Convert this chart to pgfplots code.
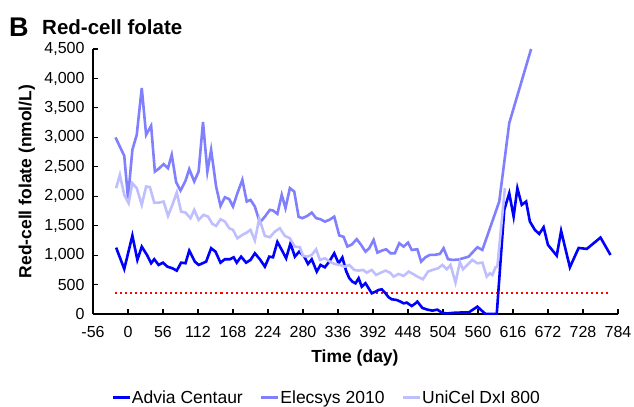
\documentclass[border=0pt]{standalone}
\usepackage{fontspec}
\setmainfont{Liberation Sans}
\usepackage{pgfplots}
\pgfplotsset{compat=1.18}
\definecolor{advia}{RGB}{0,0,255}
\definecolor{elecsys}{RGB}{128,128,255}
\definecolor{unicel}{RGB}{191,191,255}
\definecolor{cutoff}{RGB}{255,0,0}

\begin{document}
\begin{tikzpicture}
\useasboundingbox (-93bp,-93bp) rectangle (541bp,314bp);
\begin{axis}[
    scale only axis,
    width=525bp, height=265bp,
    xmin=-56, xmax=784,
    ymin=0, ymax=4500,
    axis lines*=left,
    xtick={-56,0,56,...,784},
    ytick={0,500,...,4500},
    tick align=inside,
    major tick length=5bp,
    axis line style={line width=1.2bp},
    tick style={line width=1.2bp, black},
    tick label style={font=\fontsize{16bp}{18bp}\selectfont},
    xticklabel style={yshift=-9bp},
    yticklabel style={xshift=-5bp},
    /pgf/number format/assume math mode=true,
    /pgf/number format/1000 sep={,},
    xlabel={\textbf{Time (day)}},
    ylabel={\textbf{Red-cell folate (nmol/L)}},
    label style={font=\fontsize{17.5bp}{20bp}\selectfont},
    xlabel style={at={(axis description cs:0.499,-0.165)}, anchor=center},
    ylabel style={at={(axis description cs:-0.126,0.5)}, anchor=center},
    legend columns=3,
    legend style={at={(axis description cs:0.444,-0.316)}, anchor=center,
        draw=none, font=\fontsize{17.5bp}{20bp}\selectfont,
        nodes={inner xsep=1bp},
        /tikz/every even column/.append style={column sep=16bp}},
    legend image code/.code={\draw[#1] (0bp,0bp) -- (17bp,0bp);},
]
% threshold
\addplot[cutoff, line width=2bp, dash pattern=on 2bp off 3bp, forget plot]
    coordinates {(-20,357) (772,357)};
% Advia Centaur
\addplot[advia, line width=2.6bp] coordinates {
(-19,1127) (-6,765) (7,1331) (15,918) (22,1144) (31,991) (37,862) (42,930)
(49,833) (56,872) (63,804) (71,777) (78,736) (85,872) (92,862) (98,1076)
(107,889) (113,833) (119,860) (125,889) (133,1117) (140,1059) (148,872)
(155,930) (163,929) (169,963) (174,872) (181,974) (189,872) (196,918)
(203,1031) (211,929) (219,804) (226,974) (232,963) (239,1224) (246,1088)
(253,946) (260,1201) (267,974) (274,1060) (282,974) (288,850) (294,929)
(302,720) (308,833) (315,793) (322,890) (330,1031) (337,860) (343,960)
(349,730) (354,610) (359,550) (364,520) (369,607) (374,464) (380,522)
(385,437) (390,352) (396,380) (401,408) (406,419) (412,352) (417,284)
(422,250) (430,238) (436,210) (441,181) (446,193) (454,136) (460,181)
(463,210) (471,102) (479,74) (487,57) (495,74) (503,17) (511,10) (521,20)
(532,25) (545,25) (559,125) (572,0) (586,0) (590,0) (602,1768) (610,2051)
(617,1655) (623,2136) (630,1853) (637,1910) (643,1570) (651,1428)
(658,1360) (665,1473) (672,1173) (686,991) (693,1411) (707,793)
(721,1122) (734,1105) (756,1298) (772,1003)
};
% Elecsys 2010
\addplot[elecsys, line width=2.6bp] coordinates {
(-20,2998) (-6,2686) (0,1967) (7,2788) (14,3043) (22,3837) (29,3043)
(37,3196) (43,2419) (49,2465) (57,2545) (64,2476) (70,2703) (77,2239)
(84,2096) (92,2261) (98,2460) (106,2250) (113,2419) (120,3259) (127,2419)
(133,2788) (141,2164) (148,1836) (155,1983) (162,1950) (168,1824)
(175,2051) (183,2278) (190,1909) (196,1938) (203,1824) (211,1552)
(219,1654) (227,1768) (232,1757) (239,1700) (246,2023) (252,1797)
(259,2137) (266,2079) (273,1650) (279,1627) (287,1666) (294,1722)
(301,1627) (308,1609) (315,1569) (322,1598) (330,1654) (338,1335)
(345,1310) (351,1145) (358,1180) (366,1270) (373,1173) (380,1059)
(386,1117) (393,1258) (399,1042) (406,1076) (413,1099) (420,1032)
(427,1032) (434,1202) (441,1144) (448,1212) (454,1088) (463,1099)
(469,889) (476,964) (483,1003) (490,1003) (499,1020) (505,1117) (512,930)
(520,918) (529,925) (545,974) (559,1134) (567,1088) (580,1484) (594,1910)
(610,3242) (645,4500)
};
% UniCel DxI 800
\addplot[unicel, line width=2.6bp] coordinates {
(-19,2137) (-13,2363) (-6,2023) (1,1882) (7,2222) (14,2137) (22,1853)
(29,2165) (35,2154) (42,1892) (50,1892) (57,1909) (64,1666) (71,1853)
(78,2062) (85,1739) (92,1722) (100,1626) (106,1768) (113,1598) (121,1683)
(128,1654) (135,1530) (141,1496) (148,1609) (155,1570) (162,1456)
(168,1428) (175,1286) (183,1343) (190,1383) (196,1428) (203,1250)
(210,1620) (219,1326) (227,1303) (235,1400) (243,1456) (251,1326)
(259,1286) (267,1145) (275,1133) (280,986) (287,974) (294,1003) (301,1099)
(307,918) (315,946) (323,890) (330,850) (339,833) (347,804) (354,833)
(362,748) (369,737) (376,748) (382,703) (390,748) (397,663) (405,703)
(412,737) (419,703) (425,635) (433,680) (441,646) (449,720) (456,680)
(463,635) (472,590) (480,720) (487,748) (496,776) (503,833) (510,759)
(516,833) (524,533) (531,880) (536,760) (543,833) (551,918) (559,861)
(567,873) (574,635) (579,691) (583,663) (588,793) (591,805) (603,2136)
};
\legend{Advia Centaur, Elecsys 2010, UniCel DxI 800}
\end{axis}
\node[anchor=base west, inner sep=0pt, font=\bfseries\fontsize{27bp}{30bp}\selectfont] at (-84bp,277bp) {B};
\node[anchor=base west, inner sep=0pt, font=\bfseries\fontsize{20.5bp}{24bp}\selectfont] at (-51bp,279bp) {Red-cell folate};
\end{tikzpicture}
\end{document}
